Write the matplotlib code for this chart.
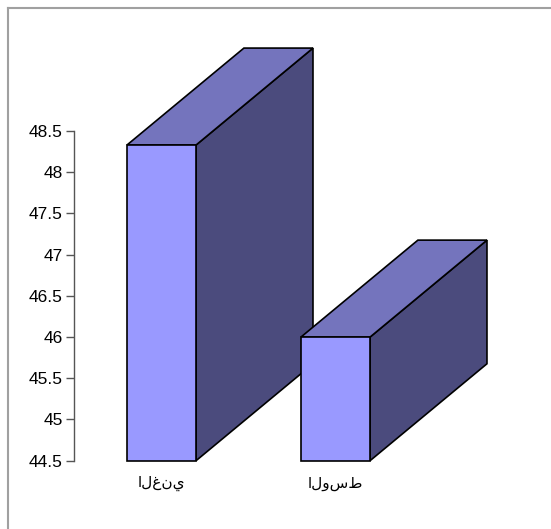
import matplotlib
matplotlib.use("Agg")
import matplotlib.pyplot as plt
from matplotlib.patches import Polygon, Rectangle
from matplotlib.lines import Line2D

# data
categories = ["الغني", "الوسط"]
values = [48.33, 46.0]
yticks = [44.5, 45, 45.5, 46, 46.5, 47, 47.5, 48, 48.5]

plt.rcParams['font.family'] = ['Liberation Sans', 'DejaVu Sans']

W, H = 551, 529
fig = plt.figure(figsize=(W / 100, H / 100), dpi=100)

# axes placed in pixels: left spine at x=74, 44.5 at y=460.7, 48.5 at y=131 (from top)
left, right = 74, 545
top, bottom = 131, 460.7
ax = fig.add_axes([left / W, (H - bottom) / H, (right - left) / W, (bottom - top) / H])

base = 44.5
ax.set_ylim(base, 48.5)
ax.set_xlim(-0.503, 2.204)

w = 0.397      # front face width (category units)
dx = 0.672     # depth offset x
dy = 1.176     # depth offset y (value units)

front_c = "#9999ff"
top_c = "#7474bd"
side_c = "#4b4b7d"

for i, v in enumerate(values):
    x0 = i - w / 2
    x1 = i + w / 2
    front = Rectangle((x0, base), w, v - base, facecolor=front_c,
                      edgecolor="black", lw=1.2, clip_on=False, zorder=3 + i * 3)
    topf = Polygon([(x0, v), (x1, v), (x1 + dx, v + dy), (x0 + dx, v + dy)],
                   closed=True, facecolor=top_c, edgecolor="black", lw=1.2,
                   clip_on=False, zorder=3 + i * 3)
    side = Polygon([(x1, base), (x1 + dx, base + dy), (x1 + dx, v + dy), (x1, v)],
                   closed=True, facecolor=side_c, edgecolor="black", lw=1.2,
                   clip_on=False, zorder=3 + i * 3)
    ax.add_patch(side)
    ax.add_patch(topf)
    ax.add_patch(front)

for s in ["top", "right", "bottom"]:
    ax.spines[s].set_visible(False)
ax.spines["left"].set_color("#555555")
ax.spines["left"].set_linewidth(1.0)

ax.set_yticks(yticks)
ax.set_yticklabels([f"{t:g}" for t in yticks], fontsize=12.5)
ax.tick_params(axis="y", length=6, width=1.0, color="#555555", pad=2)

ax.set_xticks(range(len(categories)))
ax.set_xticklabels(categories, fontsize=11, family=['DejaVu Sans'])
ax.tick_params(axis="x", length=0, pad=11)

ax.patch.set_visible(False)

# outer frame (top and left gray lines)
fig.add_artist(Line2D([8 / W, 1], [1 - 8 / H, 1 - 8 / H], color="#a0a0a0", lw=1.5,
                      transform=fig.transFigure))
fig.add_artist(Line2D([8 / W, 8 / W], [0, 1 - 8 / H], color="#a0a0a0", lw=1.5,
                      transform=fig.transFigure))

fig.savefig("out.png", dpi=100)
